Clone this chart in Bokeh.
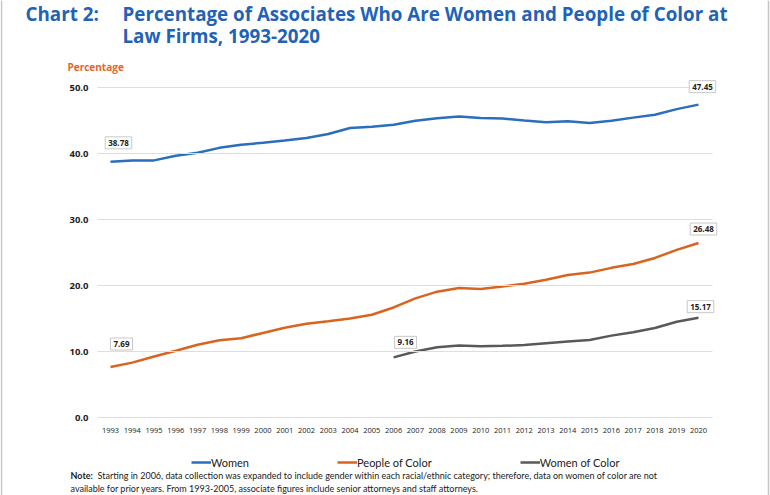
from bokeh.plotting import figure
from bokeh.models import Label, Legend, LegendItem, Range1d, FixedTicker, CustomJSTickFormatter, Span
from bokeh.embed import file_html
from bokeh.resources import INLINE

years = list(range(1993, 2021))
women = [38.78, 38.99, 39.00, 39.70, 40.15, 40.90, 41.36, 41.67, 42.00, 42.40, 43.00,
         43.90, 44.10, 44.40, 45.00, 45.40, 45.66, 45.41, 45.35, 45.05, 44.79, 44.94,
         44.68, 45.00, 45.48, 45.91, 46.77, 47.45]
poc = [7.69, 8.36, 9.29, 10.17, 11.06, 11.74, 12.04, 12.86, 13.64, 14.26, 14.63, 15.06,
       15.62, 16.72, 18.09, 19.11, 19.67, 19.53, 19.90, 20.32, 20.93, 21.63, 22.00, 22.72,
       23.30, 24.22, 25.44, 26.48]
woc_years = list(range(2006, 2021))
woc = [9.16, 10.05, 10.70, 10.95, 10.85, 10.90, 11.02, 11.30, 11.56, 11.80, 12.45,
       12.95, 13.60, 14.55, 15.17]
y_ticks = [0, 10, 20, 30, 40, 50]

BLUE = "#2a6ebd"
ORANGE = "#d9641f"
GRAY = "#595959"
TITLE_BLUE = "#1f63b6"
FONT = "Open Sans"

W, H = 770, 495
# pixel layout of the plotting area (canvas coordinates, y from top)
X0_PX, X1_PX = 110.0, 698.0      # centres of first / last year
Y0_PX, PX_PER_UNIT = 417.3, 6.6  # y of value 0, pixels per percentage point
GRID_L, GRID_R = 97.0, 712.0

px_per_year = (X1_PX - X0_PX) / (years[-1] - years[0])
x_start = years[0] - X0_PX / px_per_year
x_end = years[-1] + (W - X1_PX) / px_per_year
y_start = -(H - Y0_PX) / PX_PER_UNIT
y_end = Y0_PX / PX_PER_UNIT

p = figure(width=W, height=H, output_backend="svg", toolbar_location=None,
           x_range=Range1d(x_start, x_end), y_range=Range1d(y_start, y_end),
           min_border=0, min_border_left=0, min_border_right=0, min_border_top=0,
           min_border_bottom=0)
p.outline_line_color = None
p.background_fill_color = "white"
p.border_fill_color = "white"
p.xgrid.visible = False
p.ygrid.visible = False

# y axis drawn inside the canvas at the left edge of the grid; its ticks form the grid lines
p.yaxis.fixed_location = years[0] - (X0_PX - GRID_L) / px_per_year
p.yaxis.ticker = FixedTicker(ticks=y_ticks)
p.yaxis.formatter = CustomJSTickFormatter(code="return tick.toFixed(1)")
p.yaxis.axis_line_color = None
p.yaxis.major_tick_in = int(GRID_R - GRID_L)
p.yaxis.major_tick_out = 0
p.yaxis.major_tick_line_color = "#dedede"
p.yaxis.major_tick_line_width = 1
p.yaxis.minor_tick_line_color = None
p.yaxis.major_label_text_font = FONT
p.yaxis.major_label_text_font_style = "bold"
p.yaxis.major_label_text_font_size = "9.5px"
p.yaxis.major_label_text_color = "#222222"
p.yaxis.major_label_standoff = 9

p.xaxis.fixed_location = 0
p.xaxis.ticker = FixedTicker(ticks=years)
p.xaxis.axis_line_color = None
p.xaxis.major_tick_line_color = None
p.xaxis.minor_tick_line_color = None
p.xaxis.major_label_text_font = FONT
p.xaxis.major_label_text_font_size = "7.5px"
p.xaxis.major_label_text_color = "#222222"
p.xaxis.major_label_standoff = 4

r_w = p.line(years, women, line_color=BLUE, line_width=2.5)
r_p = p.line(years, poc, line_color=ORANGE, line_width=2.5)
r_c = p.line(woc_years, woc, line_color=GRAY, line_width=2.5)

def data_label(x, y, dx, dy):
    p.add_layout(Label(x=x, y=y, x_offset=dx, y_offset=dy, text=f"{y:.2f}",
                       text_font=FONT, text_font_style="bold", text_font_size="8px",
                       text_color="#222222", text_align="center", text_baseline="middle",
                       background_fill_color="white", border_line_color="#c8c8c8",
                       border_line_width=1, padding=3))

data_label(years[0], women[0], 8, 19)
data_label(years[-1], women[-1], 4, 18)
data_label(years[0], poc[0], 11, 23)
data_label(years[-1], poc[-1], 5, 14)
data_label(woc_years[0], woc[0], 12, 15)
data_label(woc_years[-1], woc[-1], 2, 11)

def screen_label(text, cx, cy, size, color, style="normal", font=FONT):
    p.add_layout(Label(x=cx, y=H - cy, x_units="screen", y_units="screen",
                       text=text, text_font=font, text_font_size=size, text_color=color,
                       text_font_style=style, text_baseline="alphabetic", text_align="left"))

screen_label("Chart 2:", 25, 13, "18.8px", TITLE_BLUE, "bold")
screen_label("Percentage of Associates Who Are Women and People of Color at", 122, 13, "18.8px", TITLE_BLUE, "bold")
screen_label("Law Firms, 1993-2020", 122, 35.5, "18.8px", TITLE_BLUE, "bold")
screen_label("Percentage", 67, 66, "10px", "#e0682a", "bold")

screen_label("Note:", 70, 475, "9px", "#222222", "bold", "Lato")
screen_label("Starting in 2006, data collection was expanded to include gender within each racial/ethnic category; therefore, data on women of color are not",
             97, 475, "9px", "#222222", "normal", "Lato")
screen_label("available for prior years. From 1993-2005, associate figures include senior attorneys and staff attorneys.",
             70, 488, "9px", "#222222", "normal", "Lato")

legend = Legend(items=[LegendItem(label="Women", renderers=[r_w]),
                       LegendItem(label="People of Color", renderers=[r_p]),
                       LegendItem(label="Women of Color", renderers=[r_c])],
                orientation="horizontal", location=(191, H - 469),
                padding=0, margin=0, spacing=88, glyph_width=20, glyph_height=14,
                label_height=14, label_standoff=0, border_line_color=None,
                background_fill_alpha=0, label_text_font="Lato",
                label_text_font_size="11px", label_text_color="#222222")
p.add_layout(legend, "center")

# thin frame edges of the page
p.add_layout(Span(location=1, dimension="height", location_units="screen",
                  line_color="#c4c4c4", line_width=1.5))
p.add_layout(Span(location=W - 2, dimension="height", location_units="screen",
                  line_color="#c4c4c4", line_width=1.5))

open("out.html", "w").write(file_html(p, INLINE))
